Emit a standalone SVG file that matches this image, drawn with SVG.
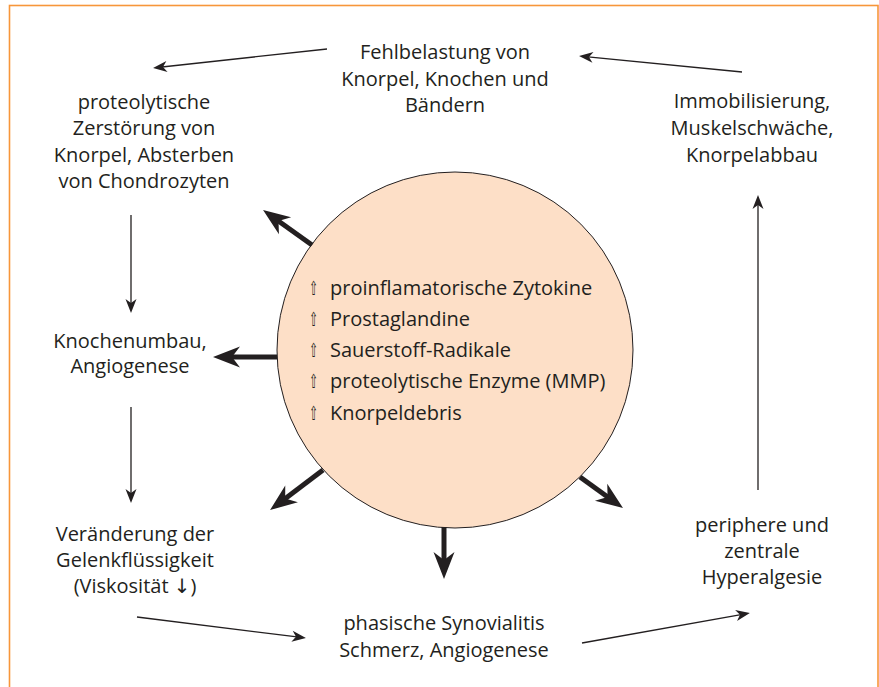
<svg xmlns="http://www.w3.org/2000/svg" width="879" height="687" viewBox="0 0 879 687">
<style>
  .t { font-family: "Open Sans", "Noto Sans", "DejaVu Sans", sans-serif; font-size: 20px; fill: #231F20; text-anchor: middle; }
  .c { font-family: "Open Sans", "Noto Sans", "DejaVu Sans", sans-serif; font-size: 20px; fill: #231F20; }
  .up { font-family: "DejaVu Sans", sans-serif; font-size: 19px; fill: #231F20; }
  .thin { stroke: #231F20; stroke-width: 1.3; fill: none; marker-end: url(#headThin); }
  .thick { stroke: #231F20; stroke-width: 5; fill: none; marker-end: url(#headThick); }
</style>
<defs>
  <marker id="headThin" viewBox="0 -7 16 14" markerUnits="userSpaceOnUse" markerWidth="16" markerHeight="14" refX="5" refY="0" orient="auto" overflow="visible">
    <path d="M14,0 L0,-5.5 L4,0 L0,5.5 Z" fill="#231F20"/>
  </marker>
  <marker id="headThick" viewBox="0 -12 30 24" markerUnits="userSpaceOnUse" markerWidth="30" markerHeight="24" refX="9" refY="0" orient="auto" overflow="visible">
    <path d="M27,0 L0,-10.5 L8,0 L0,10.5 Z" fill="#231F20"/>
  </marker>
</defs>
<rect x="9.5" y="5.5" width="868.5" height="700" fill="#FFFFFF" stroke="#F7963A" stroke-width="1.6"/>

<g id="center">
  <circle cx="455" cy="350" r="178" fill="#FDDFC7" stroke="#231F20" stroke-width="1"/>
  <text class="up" x="309" y="295" textLength="9" lengthAdjust="spacingAndGlyphs">⇧</text>
  <text class="c" x="330" y="295">proinflamatorische Zytokine</text>
  <text class="up" x="309" y="326" textLength="9" lengthAdjust="spacingAndGlyphs">⇧</text>
  <text class="c" x="330" y="326">Prostaglandine</text>
  <text class="up" x="309" y="357" textLength="9" lengthAdjust="spacingAndGlyphs">⇧</text>
  <text class="c" x="330" y="357">Sauerstoff-Radikale</text>
  <text class="up" x="309" y="388" textLength="9" lengthAdjust="spacingAndGlyphs">⇧</text>
  <text class="c" x="330" y="388">proteolytische Enzyme (MMP)</text>
  <text class="up" x="309" y="420" textLength="9" lengthAdjust="spacingAndGlyphs">⇧</text>
  <text class="c" x="330" y="420">Knorpeldebris</text>
</g>

<g id="fehlbelastung">
  <text class="t" x="445" y="59">Fehlbelastung von</text>
  <text class="t" x="445" y="86">Knorpel, Knochen und</text>
  <text class="t" x="445" y="112">Bändern</text>
</g>
<g id="proteolytische">
  <text class="t" x="144" y="109">proteolytische</text>
  <text class="t" x="144" y="135">Zerstörung von</text>
  <text class="t" x="144" y="162">Knorpel, Absterben</text>
  <text class="t" x="144" y="188">von Chondrozyten</text>
</g>
<g id="knochenumbau">
  <text class="t" x="130" y="348">Knochenumbau,</text>
  <text class="t" x="130" y="373">Angiogenese</text>
</g>
<g id="gelenkfluessigkeit">
  <text class="t" x="135" y="541">Veränderung der</text>
  <text class="t" x="135" y="567">Gelenkflüssigkeit</text>
  <text class="t" x="135" y="593">(Viskosität ↓)</text>
</g>
<g id="synovialitis">
  <text class="t" x="444" y="630">phasische Synovialitis</text>
  <text class="t" x="444" y="657">Schmerz, Angiogenese</text>
</g>
<g id="hyperalgesie">
  <text class="t" x="762" y="532">periphere und</text>
  <text class="t" x="762" y="558">zentrale</text>
  <text class="t" x="762" y="584">Hyperalgesie</text>
</g>
<g id="immobilisierung">
  <text class="t" x="752" y="108">Immobilisierung,</text>
  <text class="t" x="752" y="135">Muskelschwäche,</text>
  <text class="t" x="752" y="162">Knorpelabbau</text>
</g>

<g id="connectors">
  <line class="thin" x1="327" y1="49" x2="162" y2="67"/>
  <line class="thin" x1="742" y1="72" x2="588" y2="56.9"/>
  <line class="thin" x1="131" y1="215" x2="131" y2="304"/>
  <line class="thin" x1="131" y1="407" x2="131" y2="494"/>
  <line class="thin" x1="137" y1="617" x2="297" y2="636.9"/>
  <line class="thin" x1="582" y1="643" x2="741" y2="614.6"/>
  <line class="thin" x1="758" y1="490" x2="758" y2="204"/>
  <line class="thick" x1="312" y1="245" x2="277.7" y2="220.5"/>
  <line class="thick" x1="277" y1="357" x2="231" y2="357"/>
  <line class="thick" x1="323" y1="470" x2="284.4" y2="499.2"/>
  <line class="thick" x1="444" y1="527" x2="444" y2="561"/>
  <line class="thick" x1="580" y1="477" x2="608.4" y2="497.5"/>
</g>
</svg>
